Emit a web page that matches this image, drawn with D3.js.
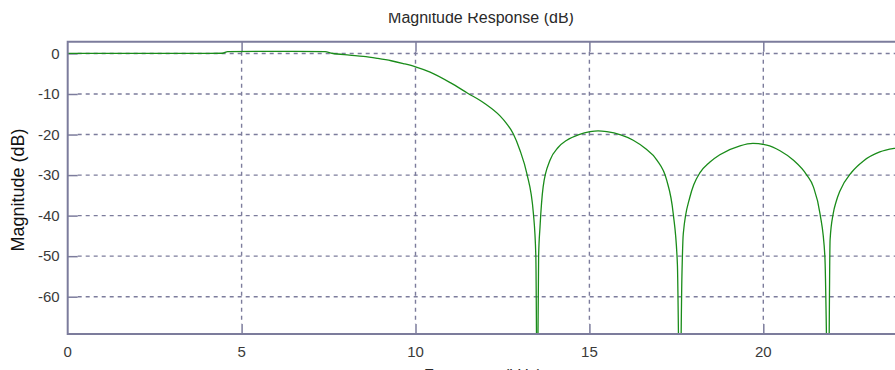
<!DOCTYPE html>
<html>
<head>
<meta charset="utf-8">
<script src="https://cdn.jsdelivr.net/npm/d3@7"></script>
<style>
  html, body { margin: 0; padding: 0; background: #fff; }
  svg { display: block; font-family: Arial, "Liberation Sans", sans-serif; }
</style>
</head>
<body>
<div id="chart"></div>
<script>
// frequency (kHz) and magnitude (dB)
const freq = [0, 1, 2, 3, 4, 4.45, 4.6, 5.5, 6.5, 7.4, 7.6, 8.1, 8.5, 8.9, 9.3, 9.65, 10, 10.42,
  11, 11.5, 12, 12.43, 12.62, 12.81, 13.0, 13.2, 13.39, 13.46, 13.5, 13.54, 13.58, 13.67, 13.87, 14.1,
  14.35, 14.7, 15.02, 15.25, 15.5, 15.9, 16.26, 16.6, 16.94, 17.22, 17.41, 17.53, 17.6, 17.66,
  17.7, 17.89, 18.0, 18.18, 18.45, 18.75, 19.33, 19.7, 20.1, 20.48, 20.86, 21.25, 21.44, 21.63,
  21.77, 21.87, 21.92, 22.01, 22.1, 22.2, 22.54, 22.88, 23.35, 23.78, 24.2];
const magDb = [0, 0, 0, 0, 0.02, 0.05, 0.45, 0.5, 0.5, 0.45, 0.05, -0.4, -0.7, -1.2, -1.8, -2.5, -3.3, -4.6,
  -7.2, -9.8, -12.4, -15.4, -17.3, -19.8, -23.8, -29.6, -39.5, -50, -90, -50, -42.8, -32.9, -26.3, -23.2,
  -21.4, -20, -19.3, -19.1, -19.3, -20.1, -21.4, -23.4, -26.3, -31.2, -39.5, -52, -90, -55,
  -44.4, -35.4, -32.4, -29.4, -26.9, -25, -22.8, -22.2, -22.6, -24, -26.3, -30, -32.9, -39.5,
  -50, -90, -46, -39.5, -36.4, -34, -29.3, -26.5, -24.3, -23.4, -23];

const xTicks = [0, 5, 10, 15, 20];
const yTicks = [0, -10, -20, -30, -40, -50, -60];

const W = 895, H = 370;
const plot = { left: 67.7, top: 41.7, bottom: 334 };
const axisColor = '#7c7c9c';
const textColor = '#3a3a3a';

const svg = d3.select('#chart').append('svg')
  .attr('width', W)
  .attr('height', H);

const x = d3.scaleLinear().domain([0, 24]).range([plot.left, plot.left + 24 * 34.78]);
const y = d3.scaleLinear().domain([-69.2, 2.9]).range([plot.bottom, plot.top]);

svg.append('defs').append('clipPath').attr('id', 'clip')
  .append('rect')
    .attr('x', plot.left)
    .attr('y', plot.top)
    .attr('width', W - plot.left)
    .attr('height', plot.bottom - plot.top);

// dashed grid
const grid = svg.append('g')
  .attr('stroke', axisColor)
  .attr('stroke-width', 1.4)
  .attr('stroke-dasharray', '4,4');
grid.selectAll('line.h')
  .data(yTicks)
  .join('line')
    .attr('class', 'h')
    .attr('x1', plot.left + 10)
    .attr('x2', W)
    .attr('y1', d => y(d))
    .attr('y2', d => y(d));
grid.selectAll('line.v')
  .data(xTicks.filter(d => d > 0))
  .join('line')
    .attr('class', 'v')
    .attr('x1', d => x(d))
    .attr('x2', d => x(d))
    .attr('y1', plot.top + 10)
    .attr('y2', plot.bottom - 10);

// axes with inward ticks
const yAxis = svg.append('g')
  .attr('transform', `translate(${plot.left},0)`)
  .call(d3.axisRight(y).tickValues(yTicks).tickSize(10).tickFormat(''));
yAxis.select('.domain').remove();

const xAxisB = svg.append('g')
  .attr('transform', `translate(0,${plot.bottom})`)
  .call(d3.axisTop(x).tickValues(xTicks.filter(d => d > 0)).tickSize(10).tickFormat(''));
xAxisB.select('.domain').remove();

const xAxisT = svg.append('g')
  .attr('transform', `translate(0,${plot.top})`)
  .call(d3.axisBottom(x).tickValues(xTicks.filter(d => d > 0)).tickSize(10).tickFormat(''));
xAxisT.select('.domain').remove();

svg.selectAll('.tick line')
  .attr('stroke', axisColor)
  .attr('stroke-width', 1.5);

// the response curve
svg.append('path')
  .datum(freq.map((f, i) => [f, magDb[i]]))
  .attr('clip-path', 'url(#clip)')
  .attr('fill', 'none')
  .attr('stroke', '#1a8c1a')
  .attr('stroke-width', 1.3)
  .attr('d', d3.line()
    .x(d => x(d[0]))
    .y(d => y(d[1]))
    .curve(d3.curveMonotoneX));

// frame
svg.append('path')
  .attr('d', `M${W},${plot.top}H${plot.left}V${plot.bottom}H${W}`)
  .attr('fill', 'none')
  .attr('stroke', axisColor)
  .attr('stroke-width', 2);

// tick labels
svg.append('g')
  .selectAll('text')
  .data(yTicks)
  .join('text')
    .attr('x', plot.left - 8)
    .attr('y', d => y(d))
    .attr('dy', '0.35em')
    .attr('text-anchor', 'end')
    .attr('fill', textColor)
    .style('font-size', '15px')
    .text(d => d);

svg.append('g')
  .selectAll('text')
  .data(xTicks)
  .join('text')
    .attr('x', d => x(d))
    .attr('y', plot.bottom + 23)
    .attr('text-anchor', 'middle')
    .attr('fill', textColor)
    .style('font-size', '15px')
    .text(d => d);

// titles
svg.append('text')
  .attr('x', 481)
  .attr('y', 23)
  .attr('text-anchor', 'middle')
  .attr('fill', '#2a2a2a')
  .style('font-size', '16px')
  .text('Magnitude Response (dB)');
// the title's top edge is clipped in the original window
svg.append('rect')
  .attr('x', 0).attr('y', 0)
  .attr('width', W).attr('height', 13)
  .attr('fill', '#fff');

svg.append('text')
  .attr('transform', `translate(24,190) rotate(-90)`)
  .attr('text-anchor', 'middle')
  .attr('fill', '#111')
  .style('font-size', '18px')
  .text('Magnitude (dB)');

svg.append('text')
  .attr('x', 483)
  .attr('y', 381)
  .attr('text-anchor', 'middle')
  .attr('fill', '#2a2a2a')
  .style('font-size', '16px')
  .text('Frequency (kHz)');
</script>
</body>
</html>
